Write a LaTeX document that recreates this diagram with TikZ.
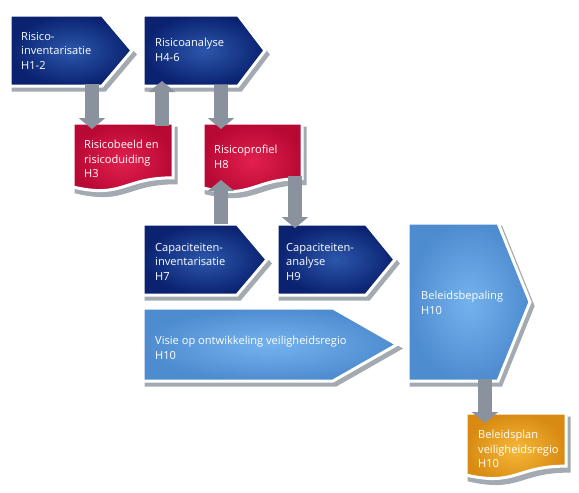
\documentclass[tikz,border=0pt]{standalone}
\usepackage{fontspec}
\setmainfont{Open Sans}
\usetikzlibrary{arrows.meta}
\definecolor{dblueO}{HTML}{0A2270}
\definecolor{dblueI}{HTML}{2C57AC}
\definecolor{redO}{HTML}{B80834}
\definecolor{redI}{HTML}{E2204E}
\definecolor{lblueO}{HTML}{4E8CD0}
\definecolor{lblueI}{HTML}{74B2EE}
\definecolor{orO}{HTML}{D88A12}
\definecolor{orI}{HTML}{F6B838}
\definecolor{agray}{HTML}{8A939D}
\definecolor{shgray}{HTML}{A4AAB2}
\tikzset{
  shp/.style={draw=white, line width=3pt, line join=miter},
  dblue/.style={shp, inner color=dblueI, outer color=dblueO},
  redbox/.style={shp, inner color=redI, outer color=redO},
  lblue/.style={shp, inner color=lblueI, outer color=lblueO},
  orbox/.style={shp, inner color=orI, outer color=orO},
  shad/.style={fill=shgray, draw=shgray, line width=3pt, line join=miter},
  lbl/.style={text=white, anchor=north west, inner sep=0pt, align=left, font=\fontsize{11.1}{14.5}\selectfont},
  conn/.style={draw=agray, line width=14pt, -{Triangle[length=11pt,width=26pt]}},
}
\newcommand\mypent[6]{%
  \begin{scope}[shift={(3,4)}]
    \path[shad] (#2,#3) -- (#4,#3) -- (#5,{(#3+#6)/2}) -- (#4,#6) -- (#2,#6) -- cycle;
  \end{scope}
  \shadedraw[#1] (#2,#3) -- (#4,#3) -- (#5,{(#3+#6)/2}) -- (#4,#6) -- (#2,#6) -- cycle;}
\newcommand\mydoc[5]{%
  \begin{scope}[shift={(3,5)}]
    \path[shad] (#2,#3) -- (#4,#3) -- (#4,{#3+0.8*#5}) .. controls ({(#2+#4)/2},{#3+0.8*#5}) and ({(#2+#4)/2},{#3+1.107*#5}) .. (#2,{#3+0.934*#5}) -- cycle;
  \end{scope}
  \shadedraw[#1] (#2,#3) -- (#4,#3) -- (#4,{#3+0.8*#5}) .. controls ({(#2+#4)/2},{#3+0.8*#5}) and ({(#2+#4)/2},{#3+1.107*#5}) .. (#2,{#3+0.934*#5}) -- cycle;}
\begin{document}
\begin{tikzpicture}[x=1pt,y=-1pt]
\useasboundingbox[fill=white] (0,0) rectangle (579,493);
% shapes
\mypent{dblue}{10}{15}{102}{132}{86}
\mypent{dblue}{143}{15}{238}{265}{86}
\mydoc{redbox}{73}{123}{173}{68.5}
\mydoc{redbox}{203}{123}{302}{69.5}
\mypent{dblue}{143}{224}{237}{267}{295}
\mypent{dblue}{277}{224}{366}{395}{295}
\mypent{lblue}{143}{308}{333}{397}{381}
\mypent{lblue}{408}{223}{498}{530}{381}
\mydoc{orbox}{466}{413}{566}{66.4}
% labels
\node[lbl] (ri) at (21,32) {Risico-\\inventarisatie\\H1-2};
\node[lbl] (ra) at (155,38) {Risicoanalyse\\H4-6};
\node[lbl] (rb) at (84,140) {Risicobeeld en\\risicoduiding\\H3};
\node[lbl] (rp) at (214,145) {Risicoprofiel\\H8};
\node[lbl] (ci) at (155,243) {Capaciteiten-\\inventarisatie\\H7};
\node[lbl] (ca) at (286,243) {Capaciteiten-\\analyse\\H9};
\node[lbl] (vo) at (155,336) {Visie op ontwikkeling veiligheidsregio\\H10};
\node[lbl] (bb) at (421,291) {Beleidsbepaling\\H10};
\node[lbl] (bp) at (478,430) {Beleidsplan\\veiligheidsregio\\H10};
% connector anchors
\coordinate (ri-out) at (92,84);
\coordinate (rb-in) at (92,129);
\coordinate (rb-out) at (162,126);
\coordinate (ra-in) at (162,81);
\coordinate (ra-out) at (221,85);
\coordinate (rp-in) at (221,129);
\coordinate (ci-out) at (221,224);
\coordinate (rp-in2) at (221,180);
\coordinate (rp-out) at (295,176);
\coordinate (ca-in) at (295,228);
\coordinate (bb-out) at (485,379);
\coordinate (bp-in) at (485,423);
% connectors
\draw[conn] (ri-out) -- (rb-in);
\draw[conn] (rb-out) -- (ra-in);
\draw[conn] (ra-out) -- (rp-in);
\draw[conn] (ci-out) -- (rp-in2);
\draw[conn] (rp-out) -- (ca-in);
\draw[conn] (bb-out) -- (bp-in);
\end{tikzpicture}
\end{document}
